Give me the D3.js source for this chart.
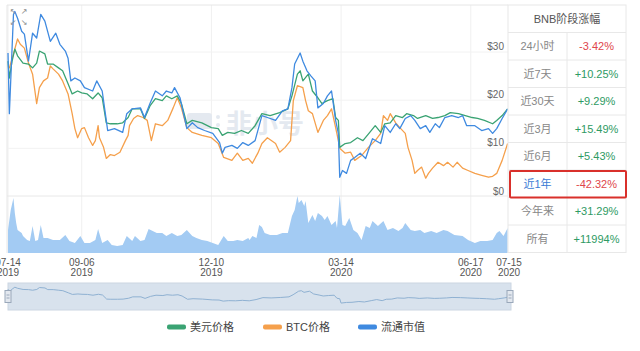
<!DOCTYPE html>
<html>
<head>
<meta charset="utf-8">
<script src="https://cdn.jsdelivr.net/npm/d3@7"></script>
<style>
  body { margin: 0; background: #fff; }
  svg { font-family: "Liberation Sans", "Noto Sans CJK SC", sans-serif; }
</style>
</head>
<body>
<div id="chart"></div>
<script>
// day offsets from the first date
const startDate = new Date(2019, 6, 14);
const endDate = new Date(2020, 6, 15);

const usdPrice = [[0,28.1],[1,24.6],[3,28.1],[5,30.6],[7,29.2],[11,27.7],[15,27.5],[18,26.7],[21,27.7],[23,30.2],[27,29.6],[29,27.5],[33,27.5],[37,26.7],[40,26.1],[44,23.4],[47,21.3],[51,21.9],[54,21.5],[58,21.3],[62,20.3],[66,21.5],[69,20.5],[72,15.3],[75,15.1],[80,15.1],[84,15.3],[88,16.4],[91,18.2],[97,18.2],[100,16.2],[104,18.8],[108,20.3],[113,19.9],[116,20.9],[120,20.3],[124,20.9],[127,19.3],[131,15.1],[135,15.8],[142,15.3],[149,14.3],[154,14.1],[157,12.7],[161,13.3],[166,13.1],[171,13.7],[176,13.1],[181,14.7],[186,17.2],[192,16.8],[199,17.4],[205,18.2],[208,20.9],[212,25.4],[214,26.1],[216,24.0],[220,25.4],[223,21.9],[227,20.5],[230,19.3],[234,19.9],[238,20.3],[240,16.4],[242,15.8],[243,10.2],[247,11.0],[251,11.2],[256,12.2],[260,11.6],[265,13.3],[269,14.7],[273,13.3],[276,15.1],[280,15.3],[284,16.8],[289,16.4],[292,17.2],[297,16.8],[300,16.2],[306,16.8],[311,16.2],[315,16.4],[320,16.8],[324,17.4],[330,17.2],[335,16.8],[340,16.4],[344,16.2],[349,15.8],[355,15.1],[358,15.8],[362,16.8],[366,18.2]];

const btcPrice = [[0,26.7],[1,26.7],[4,29.6],[7,32.7],[9,31.6],[12,30.8],[15,27.7],[18,25.4],[21,19.3],[23,22.6],[26,24.0],[29,24.6],[31,27.1],[33,26.5],[37,25.4],[40,24.0],[44,21.3],[47,17.2],[49,14.1],[51,12.2],[54,14.1],[56,14.3],[59,12.2],[62,10.6],[64,11.6],[66,14.7],[67,12.2],[70,10.2],[72,7.9],[75,8.7],[78,8.5],[82,9.2],[86,11.6],[88,12.7],[89,14.7],[92,16.2],[95,16.8],[99,16.4],[102,15.8],[105,11.6],[108,15.1],[113,14.7],[117,15.8],[121,18.4],[124,20.5],[127,18.4],[131,14.3],[135,13.3],[142,12.7],[149,12.2],[154,11.0],[158,8.1],[164,7.5],[168,9.0],[172,7.5],[176,7.9],[179,6.9],[183,9.0],[186,11.0],[190,12.2],[196,11.0],[199,9.2],[203,10.2],[207,11.6],[209,19.9],[212,23.0],[216,22.6],[218,19.9],[220,17.8],[223,17.2],[227,13.3],[231,15.8],[234,16.8],[237,18.2],[240,14.3],[242,11.6],[243,10.0],[247,9.0],[251,9.2],[254,7.5],[259,8.5],[264,10.2],[269,11.6],[273,13.1],[275,16.8],[278,15.8],[280,17.2],[284,15.3],[287,14.3],[291,13.1],[293,10.2],[296,7.5],[298,4.8],[300,5.4],[303,6.1],[306,3.8],[308,4.8],[311,5.9],[315,7.1],[319,6.4],[322,7.1],[326,6.1],[329,7.1],[333,5.9],[337,5.4],[342,4.8],[347,4.4],[352,4.0],[355,4.2],[358,4.8],[362,7.5],[366,11.0]];

const marketCap = [[0,29.8],[1,17.2],[4,37.8],[5,38.4],[7,37.0],[10,34.3],[12,33.7],[15,28.1],[18,33.9],[21,32.9],[24,37.8],[27,36.4],[31,32.2],[35,33.9],[38,31.6],[42,30.2],[44,28.7],[46,24.0],[49,24.6],[53,24.0],[56,22.6],[62,21.9],[65,24.0],[69,21.9],[72,15.8],[73,13.7],[78,14.1],[84,13.3],[87,17.2],[91,18.2],[97,18.4],[100,16.4],[104,19.3],[108,21.9],[113,20.9],[116,21.9],[120,21.5],[122,22.6],[126,20.5],[131,14.1],[135,15.3],[139,14.3],[144,13.7],[150,13.1],[155,11.2],[157,9.0],[159,10.2],[164,10.6],[168,10.0],[172,11.2],[176,10.6],[181,11.6],[186,16.8],[190,16.4],[196,15.8],[201,17.8],[205,18.2],[208,22.6],[210,27.5],[214,29.8],[216,28.1],[219,26.1],[222,25.0],[225,24.0],[227,18.4],[231,19.3],[234,20.9],[237,21.9],[240,15.8],[242,13.1],[243,4.0],[245,5.4],[248,4.8],[251,7.5],[254,8.1],[258,9.0],[262,7.9],[264,9.6],[267,12.0],[273,11.0],[276,14.7],[280,13.3],[284,15.1],[287,14.1],[291,16.2],[295,16.8],[298,15.8],[302,14.1],[306,14.7],[309,13.3],[313,15.1],[316,14.3],[320,16.4],[325,16.8],[330,16.4],[333,16.8],[336,14.7],[342,14.7],[347,13.7],[352,14.1],[355,13.1],[358,14.1],[362,16.2],[366,18.2]];

const volume = [[0,23],[1,33],[2,43],[4,55],[5,40],[6,30],[7,23],[10,20],[11,17],[14,13],[16,12],[18,27],[20,12],[22,13],[24,28],[26,15],[29,15],[33,13],[38,13],[42,18],[45,12],[49,10],[53,17],[56,10],[60,10],[64,13],[66,24],[69,10],[73,13],[76,8],[80,7],[84,8],[87,17],[91,12],[93,17],[97,12],[100,13],[103,24],[106,22],[109,20],[113,20],[116,17],[120,20],[124,17],[127,18],[131,23],[135,17],[138,15],[142,13],[146,12],[150,10],[154,8],[158,17],[161,12],[165,12],[168,13],[172,12],[176,15],[177,13],[179,17],[182,15],[184,28],[186,26],[188,20],[192,18],[197,18],[201,20],[205,20],[208,37],[210,43],[212,57],[213,50],[215,53],[217,47],[218,52],[220,30],[223,38],[225,32],[227,40],[230,37],[232,33],[234,37],[237,28],[240,32],[241,25],[243,58],[245,28],[247,27],[250,35],[253,23],[256,20],[259,13],[262,27],[265,25],[267,32],[271,27],[275,32],[278,23],[282,25],[286,22],[289,25],[291,30],[295,23],[298,22],[302,23],[305,20],[310,22],[314,20],[319,23],[322,22],[327,18],[333,17],[337,13],[342,10],[346,12],[351,12],[355,13],[358,20],[360,22],[363,17],[366,25]];

const xTickDates = ["2019-07-14", "2019-09-06", "2019-12-10", "2020-03-14", "2020-06-17", "2020-07-15"];
const yTicks = [0, 10, 20, 30];
const legendNames = ["美元价格", "BTC价格", "流通市值"];
const tableTitle = "BNB阶段涨幅";
const periodLabels = ["24小时", "近7天", "近30天", "近3月", "近6月", "近1年", "今年来", "所有"];
const periodChanges = ["-3.42%", "+10.25%", "+9.29%", "+15.49%", "+5.43%", "-42.32%", "+31.29%", "+11994%"];

const colors = ["#3aa373", "#f5a04c", "#3f8ae0"];
const width = 640, height = 351;
const plot = { left: 8, right: 509, top: 5, bottom: 196.5 };

const toDate = d => d3.timeDay.offset(startDate, d);
const parse = d3.timeParse("%Y-%m-%d");

const svg = d3.select("#chart").append("svg")
    .attr("width", width)
    .attr("height", height);

// scales
const x = d3.scaleTime().domain([startDate, endDate]).range([plot.left, plot.right]);
const y = d3.scaleLinear().domain([0, 30]).range([plot.bottom, 52]);
const yVol = d3.scaleLinear().domain([0, 57]).range([253, 196]);
const yNav = d3.scaleLinear().domain([0, 36]).range([311, 283]);

// grid lines
svg.append("g").selectAll("line")
    .data(xTickDates.map(parse))
    .enter().append("line")
    .attr("x1", d => x(d)).attr("x2", d => x(d))
    .attr("y1", plot.top).attr("y2", 253)
    .attr("stroke", "#f0f0f0");

svg.append("g").selectAll("line")
    .data(yTicks.slice(1))
    .enter().append("line")
    .attr("x1", plot.left).attr("x2", plot.right - 1)
    .attr("y1", d => y(d)).attr("y2", d => y(d))
    .attr("stroke", "#f2f2f2");

// panel borders
svg.append("line").attr("x1", 7).attr("x2", 508).attr("y1", plot.top).attr("y2", plot.top).attr("stroke", "#e6e6e6");
svg.append("line").attr("x1", 7).attr("x2", 508).attr("y1", 196).attr("y2", 196).attr("stroke", "#e8e8e8");
svg.append("line").attr("x1", 7).attr("x2", 7).attr("y1", plot.top).attr("y2", 253).attr("stroke", "#e6e6e6");

// watermark
const wm = svg.append("g").attr("fill", "#e4e9f0");
wm.append("rect").attr("x", 187).attr("y", 113).attr("width", 25).attr("height", 16).attr("rx", 3);
wm.append("circle").attr("cx", 218).attr("cy", 117).attr("r", 2);
wm.append("circle").attr("cx", 218).attr("cy", 125).attr("r", 2);
wm.append("text").attr("x", 226).attr("y", 133).attr("font-size", 26).attr("font-weight", "bold")
    .attr("font-family", "Noto Sans CJK SC").text("非小号");

// volume area
svg.append("path")
    .datum(volume)
    .attr("fill", "#a3cbf3")
    .attr("d", d3.area()
        .x(d => x(toDate(d[0])))
        .y0(yVol(0))
        .y1(d => yVol(d[1])));

// price lines
svg.append("clipPath").attr("id", "clip")
    .append("rect").attr("x", plot.left - 1).attr("y", plot.top).attr("width", plot.right - plot.left + 1).attr("height", plot.bottom - plot.top);

const line = d3.line()
    .x(d => x(toDate(d[0])))
    .y(d => y(d[1]));

[btcPrice, usdPrice, marketCap].forEach((series, i) => {
    const c = [colors[1], colors[0], colors[2]][i];
    svg.append("path")
        .datum(series)
        .attr("clip-path", "url(#clip)")
        .attr("fill", "none")
        .attr("stroke", c)
        .attr("stroke-width", 1.3)
        .attr("stroke-linejoin", "round")
        .attr("d", line);
});

// y labels (inside, above grid lines)
svg.append("g").selectAll("text")
    .data(yTicks)
    .enter().append("text")
    .attr("x", 504)
    .attr("y", d => y(d) - 2)
    .attr("text-anchor", "end")
    .attr("font-size", 10)
    .attr("fill", "#666")
    .text(d => "$" + d);

// x labels, two lines
const fmtDay = d3.timeFormat("%m-%d"), fmtYear = d3.timeFormat("%Y");
const xl = svg.append("g").selectAll("text")
    .data(xTickDates.map(parse))
    .enter().append("text")
    .attr("text-anchor", "middle")
    .attr("font-size", 10)
    .attr("fill", "#555");
xl.append("tspan").attr("x", d => x(d)).attr("y", 266).text(d => fmtDay(d));
xl.append("tspan").attr("x", d => x(d)).attr("y", 276).text(d => fmtYear(d));

// navigator
svg.append("rect").attr("x", 8).attr("y", 283).attr("width", 503).attr("height", 27)
    .attr("fill", "#d8e2ed").attr("stroke", "#ccd6e2");
svg.append("path")
    .datum(usdPrice)
    .attr("fill", "none")
    .attr("stroke", "#8fb1d2")
    .attr("stroke-width", 1)
    .attr("d", d3.line()
        .x(d => 8 + (x(toDate(d[0])) - plot.left) * 503 / (plot.right - plot.left))
        .y(d => yNav(d[1])));
[6, 508].forEach(hx => {
    const h = svg.append("g");
    h.append("rect").attr("x", hx - 1).attr("y", 290.5).attr("width", 6).attr("height", 12)
        .attr("fill", "#e3e8ef").attr("stroke", "#9aa8ba");
    h.append("line").attr("x1", hx + 0.5).attr("x2", hx + 3.5).attr("y1", 295).attr("y2", 295).attr("stroke", "#9aa8ba");
    h.append("line").attr("x1", hx + 0.5).attr("x2", hx + 3.5).attr("y1", 298).attr("y2", 298).attr("stroke", "#9aa8ba");
});

// zoom icons top-left
const icons = [["↖", 13, 14], ["↗", 24, 14], ["↙", 13, 25], ["↘", 24, 25]];
svg.append("g").selectAll("text")
    .data(icons)
    .enter().append("text")
    .attr("x", d => d[1]).attr("y", d => d[2])
    .attr("text-anchor", "middle")
    .attr("font-size", 8)
    .attr("font-family", "DejaVu Sans")
    .attr("fill", "#8a8a8a")
    .text(d => d[0]);

// legend
const legendX = [167, 263, 358];
const legendColors = [colors[0], colors[1], colors[2]];
const lg = svg.append("g").selectAll("g")
    .data(legendNames)
    .enter().append("g")
    .attr("transform", (d, i) => `translate(${legendX[i]},327)`);
lg.append("rect").attr("x", 0).attr("y", -2.5).attr("width", 19).attr("height", 5).attr("rx", 2)
    .attr("fill", (d, i) => legendColors[i]);
lg.append("text").attr("x", 23).attr("y", 4).attr("font-size", 11).attr("fill", "#444").text(d => d);

// period change table
const tbl = { x0: 508, x1: 567, x2: 626, top: 5, rowH: 27.5 };
const tg = svg.append("g");
const nRows = periodLabels.length + 1;
tg.append("rect").attr("x", tbl.x0).attr("y", tbl.top).attr("width", tbl.x2 - tbl.x0).attr("height", nRows * tbl.rowH)
    .attr("fill", "#fff").attr("stroke", "#e8e8e8");
d3.range(1, nRows).forEach(i => {
    tg.append("line").attr("x1", tbl.x0).attr("x2", tbl.x2)
        .attr("y1", tbl.top + i * tbl.rowH).attr("y2", tbl.top + i * tbl.rowH).attr("stroke", "#e8e8e8");
});
tg.append("line").attr("x1", tbl.x1).attr("x2", tbl.x1)
    .attr("y1", tbl.top + tbl.rowH).attr("y2", tbl.top + nRows * tbl.rowH).attr("stroke", "#e8e8e8");
tg.append("text").attr("x", (tbl.x0 + tbl.x2) / 2).attr("y", tbl.top + tbl.rowH / 2 + 4)
    .attr("text-anchor", "middle").attr("font-size", 11).attr("fill", "#555").text(tableTitle);

const rows = tg.selectAll("g.row")
    .data(periodLabels)
    .enter().append("g")
    .attr("class", "row")
    .attr("transform", (d, i) => `translate(0,${tbl.top + (i + 1) * tbl.rowH + tbl.rowH / 2 + 4})`);
rows.append("text").attr("x", (tbl.x0 + tbl.x1) / 2).attr("text-anchor", "middle").attr("font-size", 11)
    .attr("fill", d => d === "近1年" ? "#3a7bd5" : "#888").text(d => d);
rows.append("text").attr("x", (tbl.x1 + tbl.x2) / 2).attr("text-anchor", "middle").attr("font-size", 11)
    .attr("fill", (d, i) => periodChanges[i][0] === "-" ? "#e0464b" : "#2e9a63")
    .text((d, i) => periodChanges[i]);

// highlight box around the 1-year row
const hi = periodLabels.indexOf("近1年") + 1;
tg.append("rect").attr("x", 510).attr("y", tbl.top + hi * tbl.rowH + 1).attr("width", 116).attr("height", tbl.rowH - 1)
    .attr("fill", "none").attr("stroke", "#d9302b").attr("stroke-width", 2).attr("rx", 1);
</script>
</body>
</html>
